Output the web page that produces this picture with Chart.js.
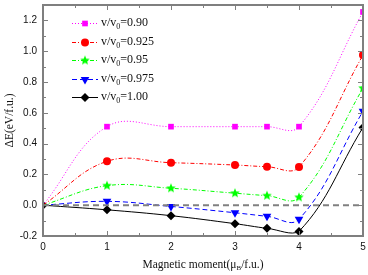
<!DOCTYPE html>
<html>
<head>
<meta charset="utf-8">
<script src="https://cdn.jsdelivr.net/npm/chart.js@4.4.1/dist/chart.umd.min.js"></script>
<style>
  body { margin: 0; background: #fff; }
</style>
</head>
<body>
<canvas id="energyChart" width="368" height="275"></canvas>
<script>
// magnetic moment (muB/f.u.)
const moments = [0, 1, 2, 3, 3.5, 4, 5];

// dE (eV/f.u.) per v/v0
const v090 = [0, 0.51, 0.51, 0.51, 0.51, 0.51, 1.255];
const v0925 = [0, 0.285, 0.276, 0.261, 0.25, 0.248, 0.975];
const v095 = [0, 0.127, 0.11, 0.078, 0.062, 0.051, 0.76];
const v0975 = [0, 0.025, -0.008, -0.049, -0.072, -0.091, 0.61];
const v100 = [0, -0.03, -0.068, -0.12, -0.15, -0.17, 0.505];

const ratioLabels = ["0.90", "0.925", "0.95", "0.975", "1.00"];

const xTicks = [0, 1, 2, 3, 4, 5];
const xMinor = [0.5, 1.5, 2.5, 3.5, 4.5];
const yTicks = [-0.2, 0, 0.2, 0.4, 0.6, 0.8, 1.0, 1.2];
const yMinor = [-0.1, 0.1, 0.3, 0.5, 0.7, 0.9, 1.1];

const FRAME = "#7f7f7f";
const SERIF = "'Liberation Serif', 'DejaVu Serif', serif";

function pts(ys) {
  return moments.map((m, i) => ({ x: m, y: ys[i] }));
}

// filled five point star for the 0.95 series
function makeStar(color, r) {
  const c = document.createElement("canvas");
  c.width = r * 2 + 2;
  c.height = r * 2 + 2;
  const g = c.getContext("2d");
  g.fillStyle = color;
  g.beginPath();
  for (let i = 0; i < 10; i++) {
    const rad = i % 2 === 0 ? r : r * 0.45;
    const a = -Math.PI / 2 + (i * Math.PI) / 5;
    const px = r + 1 + rad * Math.cos(a);
    const py = r + 1 + rad * Math.sin(a);
    if (i === 0) g.moveTo(px, py);
    else g.lineTo(px, py);
  }
  g.closePath();
  g.fill();
  return c;
}

const star = makeStar("#00ff00", 5);
const hideFirst = [0, 4, 4, 4, 4, 4, 4];

const series = [
  { data: v090, color: "#ff00ff", dash: [1, 2], style: "rect", rot: 0, r: 4 },
  { data: v0925, color: "#ff0000", dash: [4, 2, 1, 2], style: "circle", rot: 0, r: 4 },
  { data: v095, color: "#00ff00", dash: [4, 2, 1, 2], style: star, rot: 0, r: 5 },
  { data: v0975, color: "#0000ff", dash: [5, 3], style: "triangle", rot: 180, r: 5 },
  { data: v100, color: "#000000", dash: [], style: "rectRot", rot: 0, r: 4.5 },
];

const datasets = [
  {
    data: [{ x: 0, y: 0 }, { x: 5, y: 0 }],
    borderColor: "#808080",
    borderWidth: 2,
    borderDash: [6, 4],
    pointRadius: 0,
    tension: 0,
  },
];

series.forEach((s, i) => {
  datasets.push({
    data: pts(s.data),
    borderColor: s.color,
    backgroundColor: s.color,
    borderWidth: 1,
    borderDash: s.dash,
    pointStyle: s.style,
    pointRotation: s.rot,
    pointRadius: i === 4 ? 4.5 : hideFirst.map((r) => (r ? s.r : 0)),
    pointBorderWidth: 0,
    tension: 0.4,
  });
});

// text with a subscript part: parts = [[text, isSub], ...]
function drawRich(ctx, parts, x, y, size, align) {
  const subSize = Math.round(size * 0.65);
  let total = 0;
  parts.forEach(([t, sub]) => {
    ctx.font = (sub ? subSize : size) + "px " + SERIF;
    total += ctx.measureText(t).width;
  });
  let cx = align === "center" ? x - total / 2 : x;
  ctx.textAlign = "left";
  ctx.textBaseline = "middle";
  parts.forEach(([t, sub]) => {
    ctx.font = (sub ? subSize : size) + "px " + SERIF;
    ctx.fillText(t, cx, sub ? y + size * 0.3 : y);
    cx += ctx.measureText(t).width;
  });
}

const framePlugin = {
  id: "frame",
  afterDraw(chart) {
    const { ctx, chartArea: a } = chart;
    const x = chart.scales.x;
    const y = chart.scales.y;
    ctx.save();

    // inward ticks on all four sides
    ctx.strokeStyle = FRAME;
    ctx.lineWidth = 1;
    ctx.beginPath();
    const tickX = (v, len) => {
      const px = Math.round(x.getPixelForValue(v)) + 0.5;
      ctx.moveTo(px, a.bottom);
      ctx.lineTo(px, a.bottom - len);
      ctx.moveTo(px, a.top);
      ctx.lineTo(px, a.top + len);
    };
    const tickY = (v, len) => {
      const py = Math.round(y.getPixelForValue(v)) + 0.5;
      ctx.moveTo(a.left, py);
      ctx.lineTo(a.left + len, py);
      ctx.moveTo(a.right, py);
      ctx.lineTo(a.right - len, py);
    };
    xTicks.forEach((v) => tickX(v, 5));
    xMinor.forEach((v) => tickX(v, 3));
    yTicks.forEach((v) => tickY(v, 5));
    yMinor.forEach((v) => tickY(v, 3));
    ctx.stroke();

    ctx.lineWidth = 2;
    ctx.strokeRect(a.left, a.top, a.right - a.left, a.bottom - a.top);

    // legend
    const rowY = [23, 42, 60, 79, 97];
    series.forEach((s, i) => {
      const ly = rowY[i];
      ctx.strokeStyle = s.color;
      ctx.lineWidth = 1;
      ctx.setLineDash(s.dash);
      ctx.beginPath();
      ctx.moveTo(72, ly + 0.5);
      ctx.lineTo(98, ly + 0.5);
      ctx.stroke();
      ctx.setLineDash([]);
      ctx.fillStyle = s.color;
      Chart.helpers.drawPoint(
        ctx,
        { pointStyle: s.style, rotation: s.rot, radius: s.r, borderWidth: 0 },
        85,
        ly + 0.5
      );
      ctx.fillStyle = "#111";
      drawRich(ctx, [["v/v", false], ["0", true], ["=" + ratioLabels[i], false]], 101, ly, 12, "left");
    });

    // axis titles
    ctx.fillStyle = "#111";
    drawRich(
      ctx,
      [["Magnetic moment(\u03bc", false], ["B", true], ["/f.u.)", false]],
      (a.left + a.right) / 2,
      265,
      11.5,
      "center"
    );
    ctx.translate(10, (a.top + a.bottom) / 2);
    ctx.rotate(-Math.PI / 2);
    drawRich(ctx, [["\u0394E(eV/f.u.)", false]], 0, 0, 11.5, "center");
    ctx.restore();
  },
};

new Chart(document.getElementById("energyChart").getContext("2d"), {
  type: "line",
  data: { datasets: datasets },
  options: {
    responsive: false,
    devicePixelRatio: 1,
    animation: false,
    layout: { padding: { top: 2, right: 5, left: 0, bottom: 0 } },
    plugins: {
      legend: { display: false },
      tooltip: { enabled: false },
    },
    scales: {
      x: {
        type: "linear",
        min: 0,
        max: 5,
        afterFit(scale) {
          scale.height = 39;
          scale.paddingLeft = 0;
          scale.paddingRight = 0;
        },
        afterBuildTicks(scale) {
          scale.ticks = xTicks.map((v) => ({ value: v }));
        },
        ticks: {
          padding: 5,
          color: "#111",
          font: { family: "'Liberation Sans', Arial, sans-serif", size: 10 },
        },
        grid: { display: false, drawTicks: false },
        border: { display: false },
      },
      y: {
        min: -0.2,
        max: 1.3,
        afterFit(scale) {
          scale.width = 43;
          scale.paddingTop = 0;
          scale.paddingBottom = 0;
        },
        afterBuildTicks(scale) {
          scale.ticks = yTicks.map((v) => ({ value: v }));
        },
        ticks: {
          padding: 6,
          color: "#111",
          font: { family: "'Liberation Sans', Arial, sans-serif", size: 10 },
          callback: (v) => v.toFixed(1),
        },
        grid: { display: false, drawTicks: false },
        border: { display: false },
      },
    },
  },
  plugins: [framePlugin],
});
</script>
</body>
</html>
